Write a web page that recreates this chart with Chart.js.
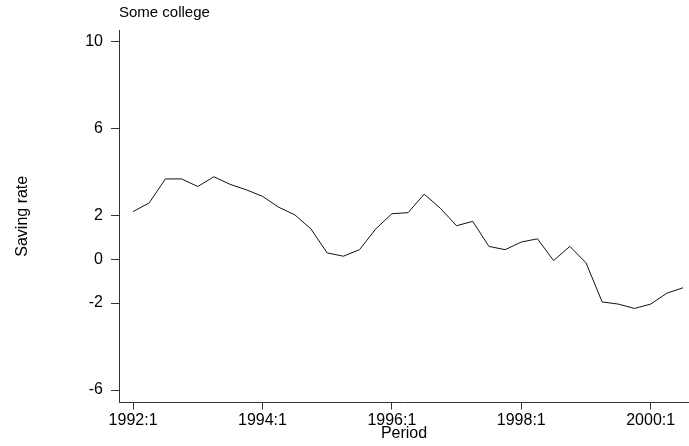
<!DOCTYPE html>
<html>
<head>
<meta charset="utf-8">
<script src="https://cdn.jsdelivr.net/npm/chart.js@4.4.0/dist/chart.umd.min.js"></script>
<style>
  html, body { margin: 0; padding: 0; background: #fff; }
  #wrap { width: 689px; height: 446px; }
</style>
</head>
<body>
<div id="wrap"><canvas id="savingChart" width="689" height="446"></canvas></div>
<script>
// quarterly periods, 1992:1 .. 2000:3
const periods = [
    '1992:1', '1992:2', '1992:3', '1992:4',
    '1993:1', '1993:2', '1993:3', '1993:4',
    '1994:1', '1994:2', '1994:3', '1994:4',
    '1995:1', '1995:2', '1995:3', '1995:4',
    '1996:1', '1996:2', '1996:3', '1996:4',
    '1997:1', '1997:2', '1997:3', '1997:4',
    '1998:1', '1998:2', '1998:3', '1998:4',
    '1999:1', '1999:2', '1999:3', '1999:4',
    '2000:1', '2000:2', '2000:3'
];

// saving rate, some college
const savingRate = [
    2.2, 2.6, 3.7, 3.7, 3.35, 3.8, 3.45, 3.2,
    2.9, 2.4, 2.05, 1.4, 0.3, 0.15, 0.45, 1.4,
    2.1, 2.15, 3.0, 2.35, 1.55, 1.75, 0.6, 0.45,
    0.8, 0.95, -0.05, 0.6, -0.15, -1.95, -2.05, -2.25,
    -2.05, -1.55, -1.3
];

const xTickPeriods = ['1992:1', '1994:1', '1996:1', '1998:1', '2000:1'];
const yTickValues = [10, 6, 2, 0, -2, -6];

const fontFamily = '"Liberation Sans", Arial, Helvetica, sans-serif';
const axisColor = '#333';

const points = savingRate.map((v, i) => ({ x: i, y: v }));

const ctx = document.getElementById('savingChart').getContext('2d');
new Chart(ctx, {
    type: 'line',
    data: {
        datasets: [{
            label: 'Saving rate',
            data: points,
            borderColor: '#111',
            borderWidth: 1,
            pointRadius: 0,
            tension: 0,
            fill: false
        }]
    },
    options: {
        responsive: false,
        animation: false,
        devicePixelRatio: 1,
        layout: { padding: 0 },
        plugins: {
            legend: { display: false },
            tooltip: { enabled: false },
            title: {
                display: true,
                text: 'Some college',
                align: 'start',
                fullSize: false,
                color: '#000',
                font: { family: fontFamily, size: 15, weight: 'normal' },
                padding: { top: 4, bottom: 8 }
            }
        },
        scales: {
            x: {
                type: 'linear',
                min: -0.87,
                max: 34.37,
                afterBuildTicks: function(scale) {
                    scale.ticks = xTickPeriods.map(p => ({ value: periods.indexOf(p) }));
                },
                afterFit: function(scale) {
                    scale.height = 43.5;
                },
                ticks: {
                    autoSkip: false,
                    maxRotation: 0,
                    color: '#000',
                    padding: 1,
                    font: { family: fontFamily, size: 16 },
                    callback: function(value) {
                        return periods[value];
                    }
                },
                grid: {
                    drawOnChartArea: false,
                    drawTicks: true,
                    tickLength: 7,
                    color: axisColor
                },
                border: { display: true, color: axisColor, width: 1 },
                title: {
                    display: true,
                    text: 'Period',
                    color: '#000',
                    font: { family: fontFamily, size: 16 },
                    padding: { top: 0, bottom: 2.4 }
                }
            },
            y: {
                min: -6.57,
                max: 10.54,
                afterBuildTicks: function(scale) {
                    scale.ticks = yTickValues.map(v => ({ value: v }));
                },
                afterFit: function(scale) {
                    scale.width = 119;
                },
                ticks: {
                    autoSkip: false,
                    color: '#000',
                    padding: 8,
                    font: { family: fontFamily, size: 16 },
                    callback: function(value) {
                        return String(value);
                    }
                },
                grid: {
                    drawOnChartArea: false,
                    drawTicks: true,
                    tickLength: 8,
                    color: axisColor
                },
                border: { display: true, color: axisColor, width: 1 },
                title: {
                    display: true,
                    text: 'Saving rate',
                    color: '#000',
                    font: { family: fontFamily, size: 16 },
                    padding: { top: 13.4, bottom: 0 }
                }
            }
        }
    }
});
</script>
</body>
</html>
